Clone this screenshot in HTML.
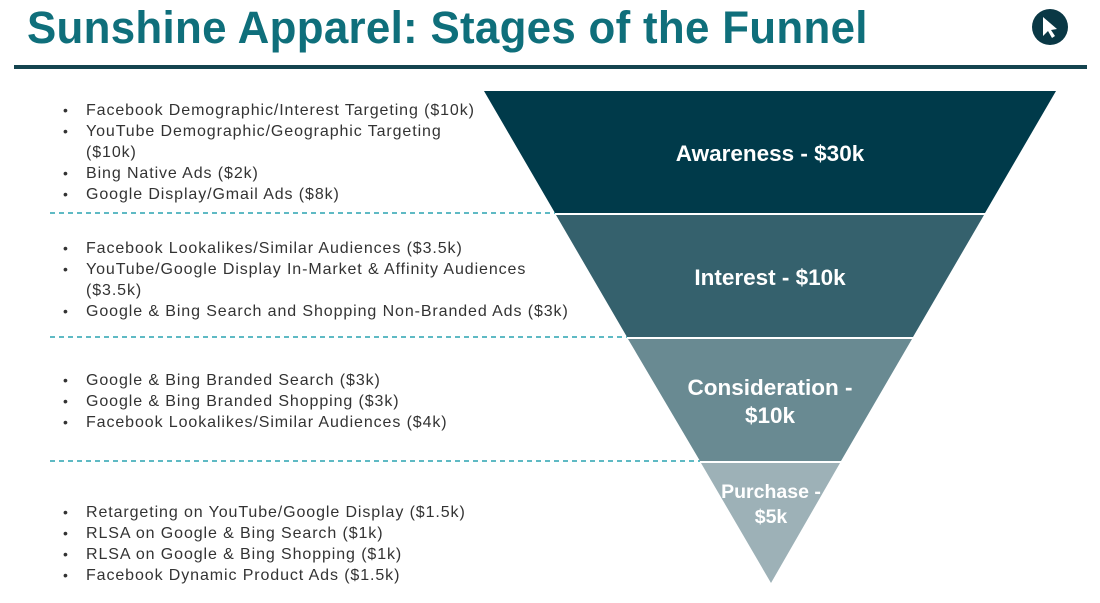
<!DOCTYPE html>
<html><head><meta charset="utf-8"><style>
body{margin:0;width:1100px;height:603px;background:#fff;position:relative;overflow:hidden;font-family:"Liberation Sans",sans-serif}
h1{position:absolute;left:27px;top:2px;margin:0;font-size:45px;font-weight:bold;color:#0f6f7b;letter-spacing:0.3px;transform:scaleX(0.975);transform-origin:left;white-space:nowrap}
.bar{position:absolute;left:14px;top:65px;width:1073px;height:4px;background:#14444f}
ul{position:absolute;left:63px;margin:0;padding:0;list-style:none;font-size:16px;letter-spacing:0.9px;color:#333;line-height:21px}
li{position:relative;padding-left:23px;width:480px;white-space:nowrap}
li:before{content:"•";position:absolute;left:0;font-size:14px}
</style></head><body>
<h1>Sunshine Apparel: Stages of the Funnel</h1>
<div class="bar"></div>
<svg width="1100" height="603" style="position:absolute;left:0;top:0">
<circle cx="1050" cy="27" r="18" fill="#0a3845"/>
<path d="M1043 17 L1043 36 L1048 31 L1052 38 L1055 36 L1051 30 L1057 29 Z" fill="#fff"/>
<polygon points="484,91 1056,91 985,213 555,213" fill="#003a4a"/>
<polygon points="556,215 984,215 913,337 627,337" fill="#35616d"/>
<polygon points="628,339 912,339 841,461 700,461" fill="#698a92"/>
<polygon points="701,463 840,463 771,583" fill="#9db1b7"/>
<g stroke="#2aa3b0" stroke-width="1.5" stroke-dasharray="5,4">
<line x1="50" y1="213" x2="555" y2="213"/>
<line x1="50" y1="337" x2="627" y2="337"/>
<line x1="50" y1="461" x2="700" y2="461"/>
</g>
<g fill="#fff" font-family="Liberation Sans,sans-serif" font-weight="bold" text-anchor="middle">
<text x="770" y="161" font-size="22.5">Awareness - $30k</text>
<text x="770" y="285" font-size="22.5">Interest - $10k</text>
<text x="770" y="395" font-size="22.5">Consideration -</text>
<text x="770" y="423" font-size="22.5">$10k</text>
<text x="771" y="498" font-size="19.5">Purchase -</text>
<text x="771" y="523" font-size="19.5">$5k</text>
</g>
</svg>
<ul style="top:100px">
<li>Facebook Demographic/Interest Targeting ($10k)</li>
<li>YouTube Demographic/Geographic Targeting<br>($10k)</li>
<li>Bing Native Ads ($2k)</li>
<li>Google Display/Gmail Ads ($8k)</li>
</ul>
<ul style="top:238px">
<li>Facebook Lookalikes/Similar Audiences ($3.5k)</li>
<li>YouTube/Google Display In-Market &amp; Affinity Audiences<br>($3.5k)</li>
<li>Google &amp; Bing Search and Shopping Non-Branded Ads ($3k)</li>
</ul>
<ul style="top:370px">
<li>Google &amp; Bing Branded Search ($3k)</li>
<li>Google &amp; Bing Branded Shopping ($3k)</li>
<li>Facebook Lookalikes/Similar Audiences ($4k)</li>
</ul>
<ul style="top:502px">
<li>Retargeting on YouTube/Google Display ($1.5k)</li>
<li>RLSA on Google &amp; Bing Search ($1k)</li>
<li>RLSA on Google &amp; Bing Shopping ($1k)</li>
<li>Facebook Dynamic Product Ads ($1.5k)</li>
</ul>
</body></html>
